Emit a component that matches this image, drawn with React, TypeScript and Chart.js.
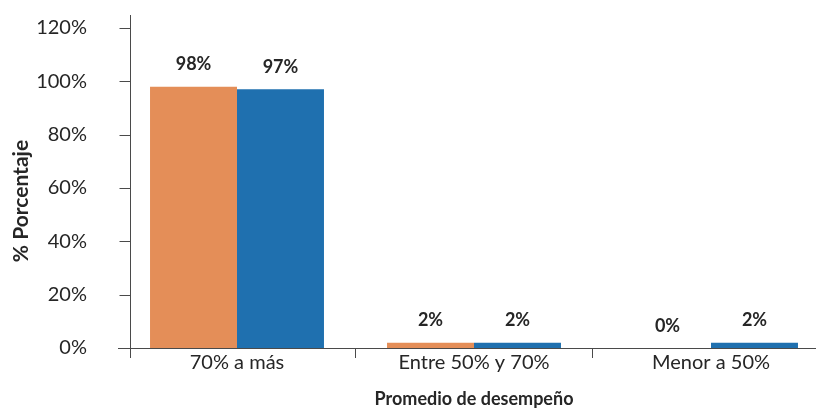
import React, { useEffect, useRef } from 'react';
import { Chart, registerables } from 'chart.js';

Chart.register(...registerables);

const categories = ['70% a más', 'Entre 50% y 70%', 'Menor a 50%'];
const seriesOrange = [98, 2, 0];
const seriesBlue = [97, 2, 2];
const seriesNames = ['Serie 1', 'Serie 2'];
const yTickValues = [0, 20, 40, 60, 80, 100, 120];
const yTitle = '% Porcentaje';
const xTitle = 'Promedio de desempeño';

const ORANGE = '#E48E58';
const BLUE = '#1F70AF';
const AXIS = '#4a4a4a';
const TEXT = '#262626';
const FONT = 'Lato, "DejaVu Sans", sans-serif';

const customPlugin = {
  id: 'customDecor',
  afterDatasetsDraw(chart: any) {
    const ctx = chart.ctx;
    ctx.save();
    ctx.font = 'bold 18px ' + FONT;
    ctx.fillStyle = TEXT;
    ctx.textAlign = 'center';
    ctx.textBaseline = 'middle';
    chart.data.datasets.forEach((ds: any, di: number) => {
      const meta = chart.getDatasetMeta(di);
      meta.data.forEach((bar: any, i: number) => {
        ctx.fillText(ds.data[i] + '%', bar.x, bar.y - 22);
      });
    });
    ctx.restore();
  },
  afterDraw(chart: any) {
    const ctx = chart.ctx;
    const y = chart.scales.y;
    const area = chart.chartArea;
    const axisX = 130.5;
    ctx.save();
    ctx.strokeStyle = AXIS;
    ctx.lineWidth = 1;
    ctx.beginPath();
    ctx.moveTo(axisX, area.top - 13);
    ctx.lineTo(axisX, area.bottom + 10);
    yTickValues.forEach((v) => {
      const py = Math.round(y.getPixelForValue(v)) + 0.5;
      ctx.moveTo(axisX - 11, py);
      ctx.lineTo(axisX, py);
    });
    ctx.stroke();
    ctx.translate(21, (area.top + area.bottom) / 2 + 13);
    ctx.rotate(-Math.PI / 2);
    ctx.font = 'bold 21px ' + FONT;
    ctx.fillStyle = TEXT;
    ctx.textAlign = 'center';
    ctx.textBaseline = 'middle';
    ctx.fillText(yTitle, 0, 0);
    ctx.restore();
  },
};

export default function App() {
  const canvasRef = useRef<HTMLCanvasElement | null>(null);

  useEffect(() => {
    document.body.style.margin = '0';
    const canvas = canvasRef.current;
    if (!canvas) return;
    const chart = new Chart(canvas, {
      type: 'bar',
      data: {
        labels: categories,
        datasets: [
          {
            label: seriesNames[0],
            data: seriesOrange,
            backgroundColor: ORANGE,
            borderWidth: 0,
            categoryPercentage: 0.734,
            barPercentage: 1,
          },
          {
            label: seriesNames[1],
            data: seriesBlue,
            backgroundColor: BLUE,
            borderWidth: 0,
            categoryPercentage: 0.734,
            barPercentage: 1,
          },
        ],
      },
      options: {
        responsive: false,
        animation: false,
        devicePixelRatio: 1,
        layout: { padding: { top: 28, right: 2.5, bottom: 0, left: 0 } },
        plugins: {
          legend: { display: false },
          tooltip: { enabled: false },
        },
        scales: {
          x: {
            border: { display: true, color: AXIS, width: 1 },
            grid: {
              display: true,
              drawOnChartArea: false,
              drawTicks: true,
              tickLength: 10,
              offset: true,
              color: (c: any) => (c.index === 0 ? 'rgba(0,0,0,0)' : AXIS),
            },
            ticks: {
              font: { family: FONT, size: 20 },
              color: TEXT,
              padding: -7,
              maxRotation: 0,
            },
            title: {
              display: true,
              text: xTitle,
              font: { family: FONT, size: 18, weight: 'bold' },
              color: TEXT,
              padding: { top: 0, bottom: 2 },
            },
            afterFit: (s: any) => {
              s.height = 64;
            },
          },
          y: {
            min: 0,
            max: 120,
            border: { display: false },
            grid: { display: false },
            ticks: {
              stepSize: 20,
              font: { family: FONT, size: 20 },
              color: TEXT,
              padding: 23.5,
              callback: (v: any) => v + '%',
            },
            afterFit: (s: any) => {
              s.width = 118.5;
              s.paddingTop = 0;
              s.paddingBottom = 0;
            },
          },
        },
      },
      plugins: [customPlugin],
    });
    return () => chart.destroy();
  }, []);

  return (
    <div style={{ position: 'fixed', left: 0, top: 0, width: 816, height: 412, overflow: 'hidden', background: '#fff' }}>
      <canvas ref={canvasRef} width={832} height={412} style={{ width: 832, height: 412, display: 'block' }} />
    </div>
  );
}
